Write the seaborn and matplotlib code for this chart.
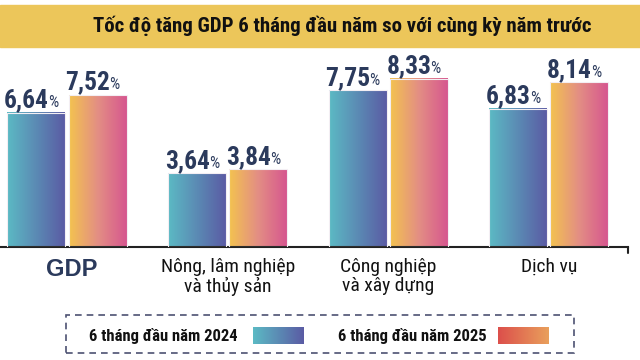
import os
import numpy as np
import pandas as pd
import seaborn as sns
import matplotlib.pyplot as plt
import matplotlib.transforms as mtransforms
from matplotlib import font_manager
from matplotlib.font_manager import FontProperties
from matplotlib.ft2font import FT2Font
from matplotlib.colors import LinearSegmentedColormap
from matplotlib.patches import Rectangle

# data
categories = ['GDP', 'Nông, lâm nghiệp\nvà thủy sản', 'Công nghiệp\nvà xây dựng', 'Dịch vụ']
years = ['6 tháng đầu năm 2024', '6 tháng đầu năm 2025']
growth_2024 = [6.64, 3.64, 7.75, 6.83]
growth_2025 = [7.52, 3.84, 8.33, 8.14]
title = 'Tốc độ tăng GDP 6 tháng đầu năm so với cùng kỳ năm trước'

df = pd.DataFrame({
    'nganh': categories * 2,
    'ky': [years[0]] * len(categories) + [years[1]] * len(categories),
    'tang': growth_2024 + growth_2025,
})

sns.set_theme(style='white')
plt.rcParams['font.family'] = ['Liberation Sans', 'DejaVu Sans']

# pick a narrow/condensed face that has every Vietnamese glyph we need
needed = {ord(c) for c in title + ''.join(categories) + ''.join(years) + '0123456789,%' if c not in '\n '}
font_files = sorted({f.fname for f in font_manager.fontManager.ttflist})


def covers(fn):
    try:
        cmap = FT2Font(fn).get_charmap()
    except Exception:
        return False
    return needed.issubset(cmap.keys())


def find_font(tests):
    for test in tests:
        for fn in font_files:
            b = os.path.basename(fn).lower()
            if 'italic' in b or 'oblique' in b:
                continue
            if test(b) and covers(fn):
                return fn
    return None


def plain_bold(b):
    return 'bold' in b and 'semi' not in b and 'extra' not in b and 'ultra' not in b


narrow_bold = find_font([
    lambda b: 'liberationsansnarrow' in b and plain_bold(b),
    lambda b: 'roboto' in b and 'condensed' in b and plain_bold(b),
    lambda b: 'notosans' in b and 'condensed' in b and plain_bold(b) and 'semi' not in b,
    lambda b: 'dejavusanscondensed-bold' in b,
    lambda b: ('narrow' in b or 'condensed' in b) and plain_bold(b),
    lambda b: b == 'liberationsans-bold.ttf',
])
narrow_reg = find_font([
    lambda b: 'liberationsansnarrow-regular' in b,
    lambda b: 'roboto' in b and 'condensed' in b and 'regular' in b,
    lambda b: 'notosans' in b and b.endswith('condensed.ttf'),
    lambda b: b == 'dejavusanscondensed.ttf',
    lambda b: ('narrow' in b or 'condensed' in b) and 'regular' in b,
    lambda b: b == 'liberationsans-regular.ttf',
])
wide_bold = find_font([lambda b: b == 'liberationsans-bold.ttf'])


def fp(fname, size, fallback_weight):
    if fname:
        return FontProperties(fname=fname, size=size)
    return FontProperties(family='DejaVu Sans', weight=fallback_weight, size=size)


NAVY = '#2b3a5c'
cmaps = [LinearSegmentedColormap.from_list('c24', ['#5cbac4', '#5a5ba4']),
         LinearSegmentedColormap.from_list('c25', ['#f3c34f', '#e38e84', '#d6568f'])]
legend_cmaps = [cmaps[0], LinearSegmentedColormap.from_list('l25', ['#dc4f4b', '#e9a05c'])]
grad = np.linspace(0, 1, 256).reshape(1, -1)

W, H = 640, 360
fig = plt.figure(figsize=(6.4, 3.6), dpi=100)
renderer = fig.canvas.get_renderer()


def fit(t, target_px):
    # shrink a text if the chosen face comes out wider than the reference
    w = t.get_window_extent(renderer).width
    if w > target_px:
        t.set_fontsize(t.get_fontsize() * target_px / w)


# yellow title band
fig.add_artist(Rectangle((0, 1 - 47 / H), 1, 42 / H, transform=fig.transFigure,
                         color='#ecc65a', zorder=0))
tt = fig.text(342 / W, 1 - 26 / H, title, ha='center', va='center',
              fontproperties=fp(narrow_bold, 15, 'bold'), color='#111111')
fit(tt, 515)

ax = fig.add_axes([0, 1 - 247 / H, 628 / W, 192 / H])
sns.barplot(data=df, x='nganh', y='tang', hue='ky', order=categories, hue_order=years,
            width=0.76, gap=0.05, legend=False, ax=ax)

# gradient fill + value labels
for cont, cmap, vals in zip(ax.containers, cmaps, [growth_2024, growth_2025]):
    for bar, v in zip(cont, vals):
        x0, w, h = bar.get_x(), bar.get_width(), bar.get_height()
        ax.imshow(grad, cmap=cmap, aspect='auto', extent=(x0, x0 + w, 0, h), zorder=2)
        bar.set_facecolor('none')
        bar.set_edgecolor('#f3eef3')
        bar.set_linewidth(0.8)
        bar.set_zorder(3)
        cx = x0 + w / 2
        num = f'{v:.2f}'.replace('.', ',')
        tn = ax.annotate(num, (cx, h), xytext=(9, 4), textcoords='offset points', ha='right',
                         va='baseline', fontproperties=fp(narrow_bold, 20, 'bold'), color=NAVY)
        fit(tn, 45)
        ax.annotate('%', (cx, h), xytext=(8.3, 4), textcoords='offset points', ha='left',
                    va='baseline', fontproperties=fp(narrow_reg, 11.5, 'normal'), color=NAVY)
ax.set_xlim(-0.417, 3.492)
ax.set_ylim(0, 9.5)

sns.despine(ax=ax, left=True)
ax.spines['bottom'].set_color('#222222')
ax.spines['bottom'].set_linewidth(1.5)
ax.plot([1, 1], [0, -0.03], transform=ax.transAxes, clip_on=False, color='#222222', lw=1.5)
ax.set_yticks([])
ax.set_xlabel('')
ax.set_ylabel('')
ax.tick_params(axis='x', length=0, pad=8)
for lab in ax.get_xticklabels():
    if lab.get_text() == 'GDP':
        lab.set_fontproperties(fp(wide_bold, 17, 'bold'))
        lab.set_color(NAVY)
        shift = mtransforms.ScaledTranslation(5 / 100, 0, fig.dpi_scale_trans)
        lab.set_transform(lab.get_transform() + shift)
    else:
        lab.set_fontproperties(fp(narrow_reg, 14, 'normal'))
        lab.set_color('#111111')
        lab.set_linespacing(1.05)

# hand-made legend with dashed frame
fig.add_artist(Rectangle((66 / W, 1 - 353 / H), 508 / W, 38 / H, transform=fig.transFigure,
                         fill=False, ls=(0, (4, 3)), ec='#4d5272', lw=1.2))
for tx, sx, label, cmap in zip([89, 338], [253, 498], years, legend_cmaps):
    tl = fig.text(tx / W, 1 - 336 / H, label, ha='left', va='center',
                  fontproperties=fp(narrow_bold, 12.5, 'bold'), color='#111111')
    fit(tl, 150)
    sax = fig.add_axes([sx / W, 1 - 344 / H, 51 / W, 17 / H])
    sax.imshow(grad, cmap=cmap, aspect='auto')
    sax.set_axis_off()

fig.savefig('out.png', dpi=100)
